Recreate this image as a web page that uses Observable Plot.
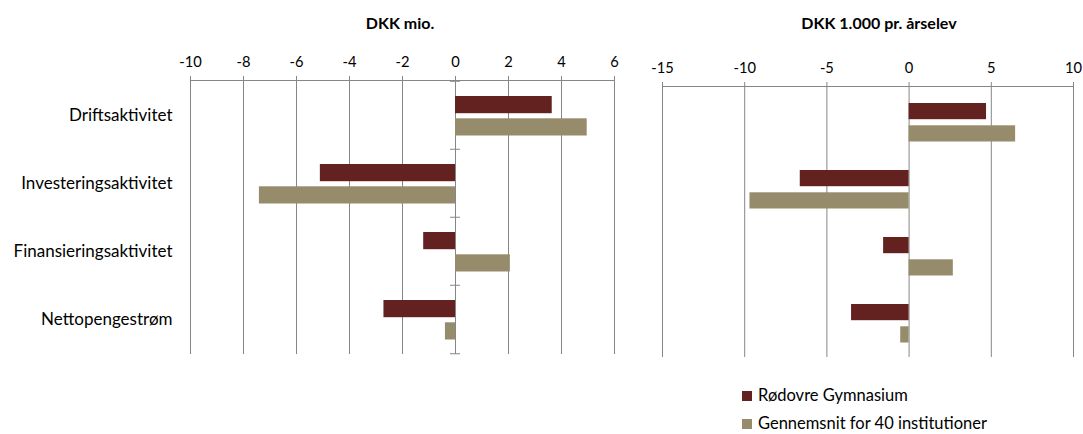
<!DOCTYPE html>
<html><head><meta charset="utf-8">
<script src="https://cdn.jsdelivr.net/npm/d3@7"></script>
<script src="https://cdn.jsdelivr.net/npm/@observablehq/plot@0.6"></script>
<style>
body{margin:0;background:#fff;font-family:Lato,"Open Sans",sans-serif;color:#000;}
#wrap{position:relative;width:1083px;height:434px;overflow:hidden;}
#wrap svg{position:absolute;top:0;}
.title{position:absolute;font-weight:bold;font-size:16px;line-height:16px;white-space:nowrap;transform:translateX(-50%);}
.leg{position:absolute;left:742px;font-size:16.5px;line-height:12px;height:12px;white-space:nowrap;}
.leg span.sw{display:inline-block;width:10px;height:10px;margin-right:6px;vertical-align:middle;position:relative;top:-1px;}
</style></head>
<body><div id="wrap"></div>
<script>
const categories = ["Driftsaktivitet","Investeringsaktivitet","Finansieringsaktivitet","Nettopengestrøm"];
const series = ["Rødovre Gymnasium","Gennemsnit for 40 institutioner"];
const colors = ["#63211f","#968b6b"];
const titles = ["DKK mio.","DKK 1.000 pr. årselev"];
const mioRodovre = [3.65, -5.1, -1.2, -2.7];
const mioAvg = [4.97, -7.4, 2.07, -0.38];
const elevRodovre = [4.71, -6.62, -1.55, -3.5];
const elevAvg = [6.48, -9.68, 2.69, -0.51];
const ticksMio = [-10,-8,-6,-4,-2,0,2,4,6];
const ticksElev = [-15,-10,-5,0,5,10];

const wrap = document.getElementById("wrap");
const grid = "#868686";
const font = "Lato, 'Open Sans', sans-serif";

function panel({values, ticks, left, width, marginLeft, marginRight, marginTop, marginBottom, labels, zeroTicks, tickHalf}) {
  const rows = [];
  categories.forEach((c, i) => {
    rows.push({category: c, series: series[0], value: values[0][i]});
    rows.push({category: c, series: series[1], value: values[1][i]});
  });
  const marks = [
    Plot.gridX(ticks, {stroke: grid, strokeOpacity: 1, strokeWidth: 1}),
    Plot.frame({anchor: "top", stroke: grid, strokeWidth: 1}),
    Plot.axisX({anchor: "top", ticks, tickSize: 5, tickPadding: 9, stroke: grid, fill: "#000", fontSize: 14.7, label: null, tickFormat: d => String(d)}),
    Plot.barX(rows.filter(d => d.series === series[0]), {y: "category", x: "value", fill: colors[0], insetTop: 15, insetBottom: 35.8}),
    Plot.barX(rows.filter(d => d.series === series[1]), {y: "category", x: "value", fill: colors[1], insetTop: 37.3, insetBottom: 13.5}),
    labels ? Plot.axisY({anchor: "left", tickSize: 0, tickPadding: 18, fontSize: 17, fill: "#000", label: null}) : Plot.axisY({ticks: [], label: null}),
  ];
  if (zeroTicks) {
    marks.push(Plot.ruleY(categories, {y: d => d, x1: -tickHalf, x2: tickHalf, stroke: grid, dy: -34.25}));
    marks.push(Plot.ruleY(categories.slice(-1), {y: d => d, x1: -tickHalf, x2: tickHalf, stroke: grid, dy: 34.25}));
  }
  const svg = Plot.plot({
    width, height: 370,
    marginLeft, marginRight, marginTop, marginBottom,
    style: {fontFamily: font, fontSize: "14.7px", background: "transparent", overflow: "visible"},
    x: {domain: [ticks[0], ticks[ticks.length - 1]]},
    y: {domain: categories, padding: 0},
    marks
  });
  svg.style.left = left + "px";
  wrap.appendChild(svg);
}

panel({values: [mioRodovre, mioAvg], ticks: ticksMio, left: 0, width: 640, marginLeft: 190, marginRight: 26, marginTop: 80, marginBottom: 16, labels: true, zeroTicks: true, tickHalf: 0.19});
panel({values: [elevRodovre, elevAvg], ticks: ticksElev, left: 640, width: 443, marginLeft: 22, marginRight: 10, marginTop: 86, marginBottom: 13, labels: false, zeroTicks: false});

const t1 = document.createElement("div"); t1.className = "title"; t1.style.left = "400px"; t1.style.top = "15px"; t1.textContent = titles[0]; wrap.appendChild(t1);
const t2 = document.createElement("div"); t2.className = "title"; t2.style.left = "879px"; t2.style.top = "15px"; t2.textContent = titles[1]; wrap.appendChild(t2);

series.forEach((s, i) => {
  const d = document.createElement("div");
  d.className = "leg";
  d.style.top = (389 + i * 28) + "px";
  d.innerHTML = `<span class="sw" style="background:${colors[i]}"></span>`;
  d.appendChild(document.createTextNode(s));
  wrap.appendChild(d);
});
</script>
</body></html>
